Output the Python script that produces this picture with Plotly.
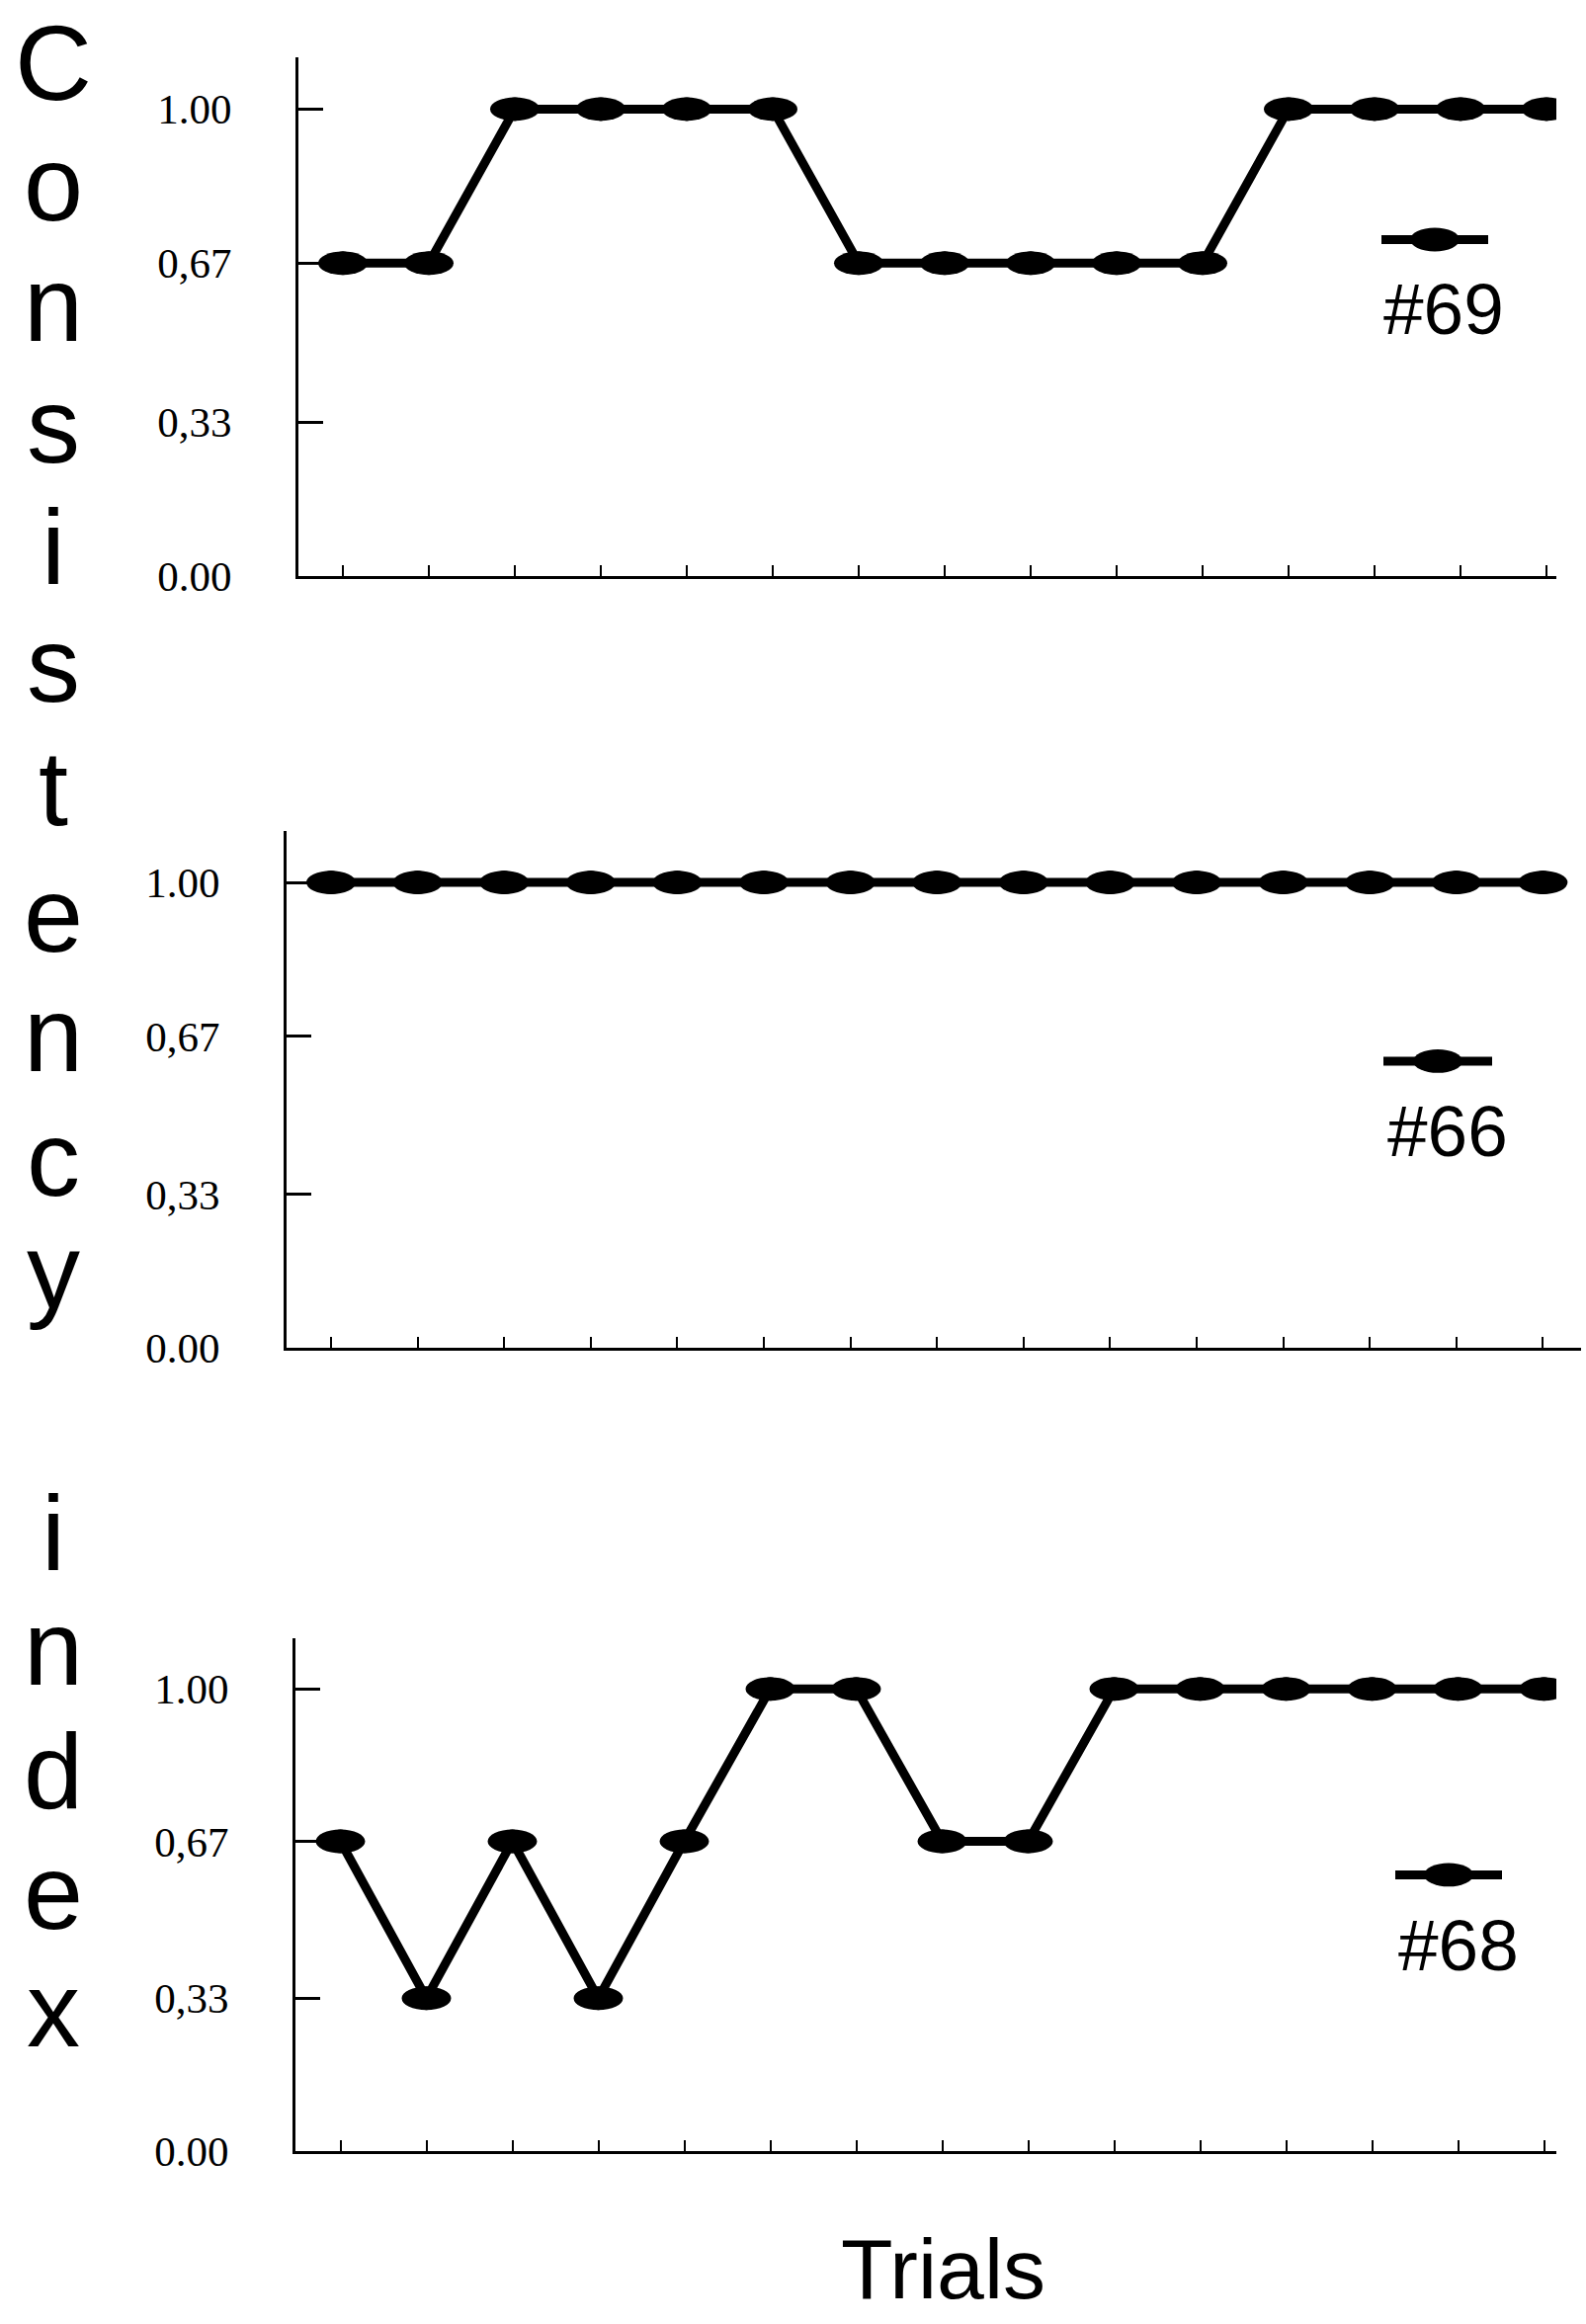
import plotly.graph_objects as go

# ---------------- data ----------------
trials = [1, 2, 3, 4, 5, 6, 7, 8, 9, 10, 11, 12, 13, 14, 15]
subjects = ["#69", "#66", "#68"]
ci_69 = [0.67, 0.67, 1.00, 1.00, 1.00, 1.00, 0.67, 0.67, 0.67, 0.67, 0.67, 1.00, 1.00, 1.00, 1.00]
ci_66 = [1.00, 1.00, 1.00, 1.00, 1.00, 1.00, 1.00, 1.00, 1.00, 1.00, 1.00, 1.00, 1.00, 1.00, 1.00]
ci_68 = [0.67, 0.33, 0.67, 0.33, 0.67, 1.00, 1.00, 0.67, 0.67, 1.00, 1.00, 1.00, 1.00, 1.00, 1.00]
y_tickvals = [0, 0.33, 0.67, 1.00]
y_ticktext = ["0.00", "0,33", "0,67", "1.00"]
y_title = "Consistency index"
x_title = "Trials"

series = [ci_69, ci_66, ci_68]

# ---------------- layout geometry (pixels) ----------------
W, H = 1605, 2352
panels = [
    dict(left=302, right=1575, top=59, bottom=589, t1=347, dx=87.0),
    dict(left=290, right=1600, top=850, bottom=1378, t1=335, dx=87.6),
    dict(left=299, right=1575, top=1675, bottom=2199, t1=344.5, dx=87.0),
]
legend_pos = [
    dict(x0=1398, x1=1506, y=245, tx=1461, ty=316),
    dict(x0=1400, x1=1510, y=1085, tx=1465, ty=1156),
    dict(x0=1412, x1=1520, y=1917, tx=1476, ty=1989),
]
Y_TOP = 1.11
ELL_W, ELL_H = 50, 24
LINE_W = 9


def fx(px):
    return px / W


def fy(py):
    return 1 - py / H


fig = go.Figure()
shapes = []
annotations = []

for i, (p, vals, name) in enumerate(zip(panels, series, subjects), start=1):
    xa = "x" if i == 1 else f"x{i}"
    ya = "y" if i == 1 else f"y{i}"
    width_px = p["right"] - p["left"]
    x0r = 1 - (p["t1"] - p["left"]) / p["dx"]
    x1r = x0r + width_px / p["dx"]
    ypx_per_unit = (p["bottom"] - p["top"]) / Y_TOP

    fig.add_trace(go.Scatter(
        x=trials, y=vals, mode="lines+markers", name=name,
        line=dict(color="black", width=LINE_W),
        marker=dict(symbol="circle", size=ELL_H, color="black"),
        xaxis=xa, yaxis=ya, showlegend=False, hoverinfo="x+y",
    ))
    hw = ELL_W / 2 / p["dx"]
    hh = ELL_H / 2 / ypx_per_unit
    for xv, yv in zip(trials, vals):
        shapes.append(dict(type="circle", xref=xa, yref=ya,
                           x0=xv - hw, x1=xv + hw, y0=yv - hh, y1=yv + hh,
                           fillcolor="black", line=dict(color="black", width=0),
                           layer="above"))

    axis_common = dict(showline=True, linecolor="black", linewidth=3,
                       showgrid=False, zeroline=False, ticks="inside",
                       tickcolor="black")
    fig.update_layout(**{
        ("xaxis" if i == 1 else f"xaxis{i}"): dict(
            domain=[fx(p["left"]), fx(p["right"])],
            anchor=ya, range=[x0r, x1r], tickvals=trials,
            showticklabels=False, ticklen=11, tickwidth=2, **axis_common),
        ("yaxis" if i == 1 else f"yaxis{i}"): dict(
            domain=[fy(p["bottom"]), fy(p["top"])],
            anchor=xa, range=[0, Y_TOP], tickvals=y_tickvals,
            ticktext=y_ticktext, ticklen=25, tickwidth=3,
            ticklabelstandoff=56,
            tickfont=dict(family="Liberation Serif", size=43, color="black"),
            **axis_common),
    })

    lg = legend_pos[i - 1]
    shapes.append(dict(type="line", xref="paper", yref="paper",
                       x0=fx(lg["x0"]), x1=fx(lg["x1"]), y0=fy(lg["y"]), y1=fy(lg["y"]),
                       line=dict(color="black", width=LINE_W)))
    cx = (lg["x0"] + lg["x1"]) / 2
    shapes.append(dict(type="circle", xref="paper", yref="paper",
                       x0=fx(cx - ELL_W / 2), x1=fx(cx + ELL_W / 2),
                       y0=fy(lg["y"] + ELL_H / 2), y1=fy(lg["y"] - ELL_H / 2),
                       fillcolor="black", line=dict(color="black", width=0)))
    annotations.append(dict(text=name, xref="paper", yref="paper",
                            x=fx(lg["tx"]), y=fy(lg["ty"]), xanchor="center", yanchor="middle",
                            showarrow=False,
                            font=dict(family="Liberation Sans", size=73, color="black")))

# stacked vertical y title letters (baselines in px)
letter_baselines = [102, 225, 348, 472, 597, 717, 843, 972, 1095, 1222, 1337, None,
                    1605, 1722, 1848, 1972, 2092]
TF = 108
for ch, base in zip(y_title, letter_baselines):
    if ch == " " or base is None:
        continue
    annotations.append(dict(text=ch, xref="paper", yref="paper",
                            x=fx(54), y=fy(base - 0.3465 * TF),
                            xanchor="center", yanchor="middle", showarrow=False,
                            font=dict(family="Liberation Sans", size=TF, color="black")))

annotations.append(dict(text=x_title, xref="paper", yref="paper",
                        x=fx(955), y=fy(2320), xanchor="center", yanchor="middle",
                        showarrow=False,
                        font=dict(family="Liberation Sans", size=86, color="black")))

fig.update_layout(width=W, height=H, margin=dict(l=0, r=0, t=0, b=0),
                  paper_bgcolor="white", plot_bgcolor="white",
                  shapes=shapes, annotations=annotations, showlegend=False)

fig.write_html("out.html")
